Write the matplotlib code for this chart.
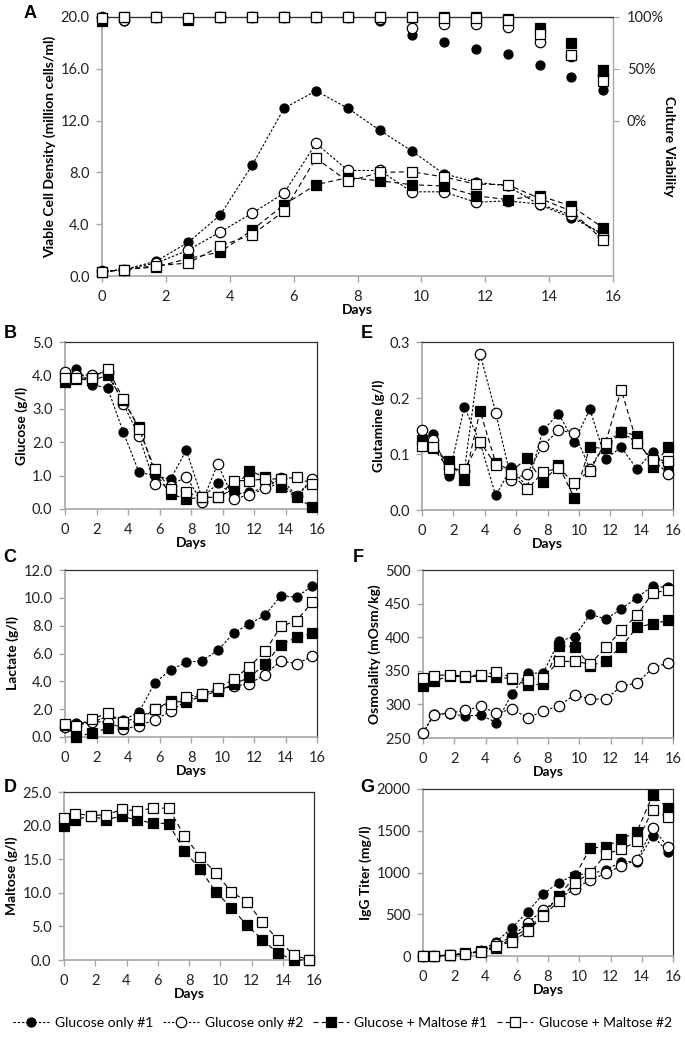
import matplotlib
matplotlib.use('Agg')
import matplotlib.pyplot as plt
from matplotlib.ticker import FixedLocator, FuncFormatter

# sampling days (same for every panel)
days = [0, 0.7, 1.7, 2.7, 3.7, 4.7, 5.7, 6.7, 7.7, 8.7, 9.7, 10.7, 11.7, 12.7, 13.7, 14.7, 15.7]

series_names = ['Glucose only #1', 'Glucose only #2', 'Glucose + Maltose #1', 'Glucose + Maltose #2']

# A - viable cell density (million cells/ml)
vcd_go1 = [0.35, 0.5, 1.15, 2.6, 4.7, 8.55, 12.95, 14.3, 12.95, 11.25, 9.65, 7.9, 7.25, 6.95, 5.5, 4.5, 3.25]
vcd_go2 = [0.35, 0.5, 1.0, 2.0, 3.4, 4.85, 6.4, 10.25, 8.15, 8.15, 6.5, 6.5, 5.7, 5.8, 5.55, 4.7, 3.1]
vcd_gm1 = [0.3, 0.5, 0.7, 1.35, 1.85, 3.55, 5.5, 7.05, 7.6, 7.35, 7.05, 6.95, 6.2, 5.9, 6.2, 5.4, 3.7]
vcd_gm2 = [0.3, 0.5, 0.8, 1.0, 2.3, 3.2, 5.0, 9.1, 7.3, 8.0, 8.05, 7.65, 7.1, 7.05, 6.0, 5.0, 2.75]

# A - culture viability (%)
via_go1 = [100, 96, 100, 99.5, 100, 100, 100, 100, 100, 96, 82.7, 75.5, 69, 64, 54, 42.5, 29.7]
via_go2 = [100, 97, 100, 99.5, 100, 100, 100, 100, 100, 98, 89.5, 92.8, 92.8, 90.2, 76, 62.4, 44.4]
via_gm1 = [96, 100, 100, 97, 100, 100, 100, 100, 100, 100, 100, 100, 100, 98.4, 89.5, 74.5, 48.4]
via_gm2 = [99, 100, 100, 99, 100, 100, 100, 100, 100, 100, 100, 99, 99, 97, 84, 63.5, 38]

# B - glucose (g/l)
glc_go1 = [4.0, 4.2, 3.72, 3.63, 2.3, 1.1, 1.0, 0.89, 1.76, 0.33, 0.77, 0.42, 0.52, 0.62, 0.78, 0.37, 0.86]
glc_go2 = [4.1, 4.0, 4.02, 4.1, 3.15, 2.18, 0.75, 0.7, 0.97, 0.2, 1.35, 0.3, 0.42, 0.62, 0.92, 0.4, 0.9]
glc_gm1 = [3.8, 3.9, 3.85, 4.0, 3.25, 2.45, 1.1, 0.45, 0.3, 0.35, 0.35, 0.6, 1.15, 0.95, 0.65, 0.35, 0.05]
glc_gm2 = [3.92, 3.92, 3.92, 4.2, 3.3, 2.4, 1.2, 0.6, 0.5, 0.35, 0.35, 0.85, 0.85, 0.9, 0.9, 0.95, 0.75]

# C - lactate (g/l)
lac_go1 = [0.7, 1.0, 1.05, 1.48, 1.2, 1.8, 3.88, 4.83, 5.36, 5.48, 6.22, 7.46, 8.13, 8.75, 10.15, 10.05, 10.85]
lac_go2 = [0.7, 0.8, 1.1, 1.1, 0.57, 0.81, 1.24, 1.84, 2.6, 3.1, 3.4, 3.64, 3.83, 4.47, 5.48, 5.26, 5.8]
lac_gm1 = [0.85, 0.0, 0.29, 0.62, 0.9, 1.2, 2.0, 2.56, 2.5, 2.95, 3.3, 3.8, 4.28, 5.24, 6.63, 7.15, 7.45]
lac_gm2 = [0.95, 0.8, 1.3, 1.7, 1.1, 1.4, 2.0, 2.4, 2.9, 3.1, 3.5, 4.15, 5.05, 6.15, 7.95, 8.35, 9.7]

# D - maltose (g/l), only the maltose-fed cultures
mal_gm1 = [20.0, 20.9, 21.4, 20.9, 21.4, 20.8, 20.4, 20.3, 16.2, 13.6, 10.15, 7.8, 5.2, 3.0, 1.0, 0.0, 0.0]
mal_gm2 = [21.2, 21.8, 21.5, 21.6, 22.4, 22.2, 22.6, 22.6, 18.5, 15.4, 13.0, 10.15, 8.7, 5.6, 3.0, 0.75, 0.0]

# E - glutamine (g/l)
gln_go1 = [0.13, 0.136, 0.06, 0.184, 0.12, 0.026, 0.076, 0.04, 0.142, 0.172, 0.122, 0.18, 0.091, 0.112, 0.073, 0.104, 0.073]
gln_go2 = [0.142, 0.125, 0.075, 0.07, 0.279, 0.174, 0.053, 0.065, 0.115, 0.142, 0.138, 0.074, 0.12, 0.14, 0.12, 0.09, 0.065]
gln_gm1 = [0.125, 0.11, 0.087, 0.053, 0.177, 0.084, 0.07, 0.092, 0.05, 0.08, 0.022, 0.112, 0.11, 0.14, 0.133, 0.077, 0.113]
gln_gm2 = [0.115, 0.112, 0.073, 0.073, 0.122, 0.08, 0.065, 0.037, 0.067, 0.075, 0.049, 0.07, 0.12, 0.215, 0.12, 0.09, 0.088]

# F - osmolality (mOsm/kg)
osm_go1 = [257, 286, 286, 283, 284, 273, 316, 346, 347, 394, 401, 434, 427, 442, 459, 476, 474]
osm_go2 = [258, 284, 287, 291, 297, 287, 293, 280, 290, 298, 314, 308, 308, 327, 332, 354, 362]
osm_gm1 = [327, 335, 342, 341, 342, 341, 338, 329, 330, 387, 386, 357, 365, 386, 415, 420, 425]
osm_gm2 = [340, 343, 344, 342, 344, 348, 340, 337, 340, 364, 364, 360, 385, 410, 433, 466, 470]

# G - IgG titer (mg/l)
igg_go1 = [0, 0, 15, 30, 60, 172, 340, 532, 744, 880, 972, 985, 1030, 1130, 1130, 1440, 1240]
igg_go2 = [0, 0, 10, 25, 55, 140, 230, 400, 550, 690, 800, 912, 990, 1080, 1150, 1532, 1300]
igg_gm1 = [0, 0, 10, 30, 55, 90, 220, 330, 495, 720, 950, 1292, 1310, 1400, 1490, 1930, 1770]
igg_gm2 = [0, 0, 10, 25, 50, 120, 170, 300, 480, 660, 880, 990, 1220, 1280, 1372, 1750, 1660]

W, H = 685, 1038
AXIS_GREY = '#a6a6a6'
FRAME = '#303030'
FONT = ['Lato', 'DejaVu Sans']

STYLES = [
    dict(marker='o', mfc='black', mec='black', ms=6.5, dashes=(2.2, 1.6)),
    dict(marker='o', mfc='white', mec='black', ms=7.5, dashes=(2.2, 1.6)),
    dict(marker='s', mfc='black', mec='black', ms=6.8, dashes=(4.5, 3)),
    dict(marker='s', mfc='white', mec='black', ms=6.8, dashes=(4.5, 3)),
]


def px_rect(left, right, top, bottom):
    """axes rectangle from pixel edges of the reference"""
    return [left / W, 1 - bottom / H, (right - left) / W, (bottom - top) / H]


def style_axes(ax, ymax, ystep, fmt, ylabel, ymin=0):
    ax.set_xlim(0, 16)
    ax.set_ylim(ymin, ymax)
    ax.xaxis.set_major_locator(FixedLocator(range(0, 17, 2)))
    n = int(round((ymax - ymin) / ystep))
    ax.yaxis.set_major_locator(FixedLocator([ymin + i * ystep for i in range(n + 1)]))
    ax.yaxis.set_major_formatter(FuncFormatter(lambda v, p: fmt % v))
    for side in ['left', 'bottom']:
        ax.spines[side].set_color(AXIS_GREY)
        ax.spines[side].set_linewidth(1.2)
    for side in ['top', 'right']:
        ax.spines[side].set_color(FRAME)
        ax.spines[side].set_linewidth(0.9)
    ax.tick_params(direction='out', length=4, width=1, color=AXIS_GREY,
                   labelsize=10.5, pad=5, labelcolor='#222222')
    ax.tick_params(axis='x', pad=6)
    ax.set_xlabel('Days', fontsize=10, fontweight='bold', labelpad=0)
    ax.set_ylabel(ylabel, fontsize=10, fontweight='bold', labelpad=3)


def draw_series(ax, values, which=(0, 1, 2, 3), lw=0.8):
    lines = []
    for i in which:
        st = STYLES[i]
        ln, = ax.plot(days, values[i], color='black', lw=lw, dashes=st['dashes'],
                      marker=st['marker'], ms=st['ms'], mfc=st['mfc'], mec=st['mec'],
                      mew=0.9, label=series_names[i], clip_on=False, zorder=3 + i)
        lines.append(ln)
    return lines


def main():
    plt.rcParams['font.family'] = FONT
    fig = plt.figure(figsize=(W / 100, H / 100), dpi=100)

    # ---- panel A
    axA = fig.add_axes(px_rect(102, 613, 17, 276))
    style_axes(axA, 20, 4, '%.1f', 'Viable Cell Density (million cells/ml)')
    axA.spines['right'].set_color(AXIS_GREY)
    handles = draw_series(axA, [vcd_go1, vcd_go2, vcd_gm1, vcd_gm2])

    axV = axA.twinx()
    axV.set_ylim(-150, 100)
    axV.set_yticks([0, 50, 100])
    axV.set_yticklabels(['0%', '50%', '100%'])
    axV.spines['right'].set_color(AXIS_GREY)
    axV.spines['top'].set_color(FRAME)
    axV.spines['left'].set_visible(False)
    axV.spines['bottom'].set_visible(False)
    axV.tick_params(direction='out', length=4, color=AXIS_GREY, labelsize=10.5, pad=6,
                    labelcolor='#222222')
    axV.set_ylabel('Culture Viability', fontsize=10, fontweight='bold', rotation=270, labelpad=8)
    for i, vals in enumerate([via_go1, via_go2, via_gm1, via_gm2]):
        st = STYLES[i]
        axV.plot(days, vals, ls='none', marker=st['marker'], ms=st['ms'],
                 mfc=st['mfc'], mec=st['mec'], mew=0.9, clip_on=False, zorder=3 + i)

    # ---- panel B glucose
    axB = fig.add_axes(px_rect(65, 317, 342, 509))
    style_axes(axB, 5, 1, '%.1f', 'Glucose (g/l)')
    draw_series(axB, [glc_go1, glc_go2, glc_gm1, glc_gm2])

    # ---- panel C lactate
    axC = fig.add_axes(px_rect(65, 317, 570, 737))
    style_axes(axC, 12, 2, '%.1f', 'Lactate (g/l)')
    draw_series(axC, [lac_go1, lac_go2, lac_gm1, lac_gm2])

    # ---- panel D maltose
    axD = fig.add_axes(px_rect(64, 314, 792, 960))
    style_axes(axD, 25, 5, '%.1f', 'Maltose (g/l)')
    draw_series(axD, [None, None, mal_gm1, mal_gm2], which=(2, 3))

    # ---- panel E glutamine
    axE = fig.add_axes(px_rect(422, 673, 342, 510))
    style_axes(axE, 0.3, 0.1, '%.1f', 'Glutamine (g/l)')
    draw_series(axE, [gln_go1, gln_go2, gln_gm1, gln_gm2])

    # ---- panel F osmolality
    axF = fig.add_axes(px_rect(423, 673, 570, 738))
    style_axes(axF, 500, 50, '%d', 'Osmolality (mOsm/kg)', ymin=250)
    draw_series(axF, [osm_go1, osm_go2, osm_gm1, osm_gm2])

    # ---- panel G IgG titer
    axG = fig.add_axes(px_rect(423, 673, 789, 956))
    style_axes(axG, 2000, 500, '%d', 'IgG Titer (mg/l)')
    draw_series(axG, [igg_go1, igg_go2, igg_gm1, igg_gm2])

    # panel letters
    letters = [('A', 30, 13), ('B', 10, 334), ('E', 367, 334), ('C', 10, 558),
               ('F', 358, 558), ('D', 10, 788), ('G', 367, 788)]
    for txt, x, y in letters:
        fig.text(x / W, 1 - y / H, txt, fontsize=13, fontweight='bold',
                 family=['Liberation Sans', 'DejaVu Sans'], ha='center', va='center')

    fig.legend(handles=handles, loc='center', bbox_to_anchor=(0.5, 1 - 1023 / H), ncol=4,
               frameon=False, fontsize=10, handlelength=2.6, handletextpad=0.4,
               columnspacing=0.7, borderaxespad=0)

    fig.savefig('out.png', dpi=100)


if __name__ == "__main__":
    main()
